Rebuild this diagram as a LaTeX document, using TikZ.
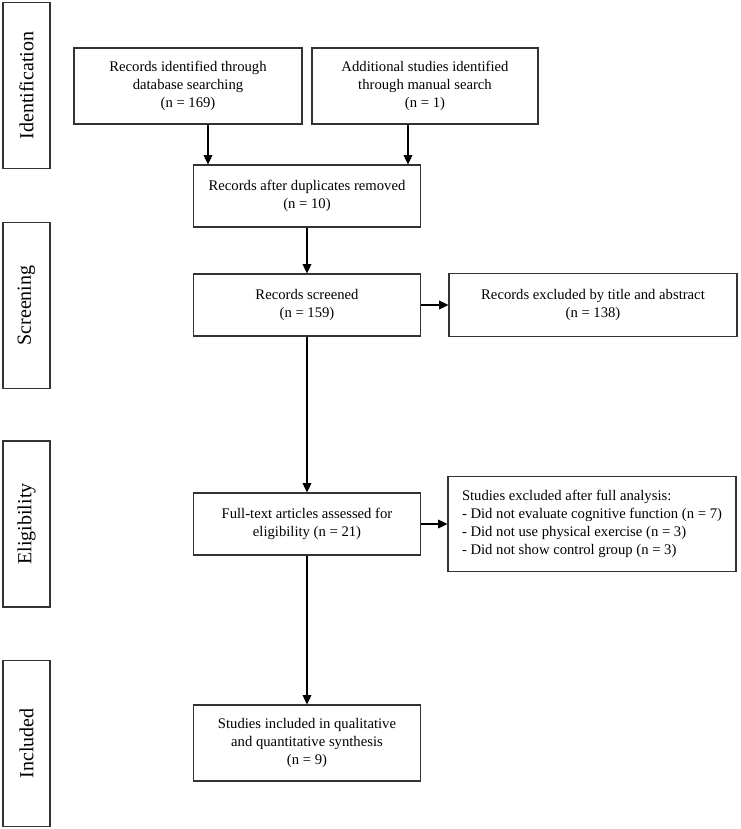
\documentclass[tikz,border=0pt]{standalone}
\usepackage{fontspec}
\setmainfont{Liberation Serif}
\usepackage{tikz}
\usetikzlibrary{arrows.meta,positioning}

\tikzset{
  stagebox/.style={shape=rectangle,draw=black!80,line width=.8pt,rotate=90,
    minimum width=124.5pt,minimum height=35.25pt,inner sep=0pt,
    font=\fontsize{15}{18}\selectfont},
  flowbox/.style={shape=rectangle,draw=black!80,line width=.8pt,align=center,
    minimum width=170.25pt,minimum height=46.5pt,inner sep=0pt,
    font=\fontsize{11}{13.5}\selectfont},
  flowarrow/.style={-{Triangle[length=7pt,width=6.5pt]},line width=1pt}
}

\begin{document}
\begin{tikzpicture}[x=0.75pt,y=-0.75pt]
		\useasboundingbox (0,0) rectangle (740,829);
		% stages on the left
		\node (identification) at (26.5,85.5) [stagebox] {Identification};
		\node (screening) at (26.5,305.5) [stagebox] {Screening};
		\node (eligibility) at (26.5,524) [stagebox] {Eligibility};
		\node (included) at (26.5,743.5) [stagebox] {Included};
		% flow boxes
		\node (database) at (188,86) [flowbox,minimum width=171pt,minimum height=57pt] {Records identified through\\database searching\\(n = 169)};
		\node (manual) at (425,86) [flowbox,minimum width=169.5pt,minimum height=57pt] {Additional studies identified\\through manual search\\(n = 1)};
		\node (duplicates) at (307,196) [flowbox] {Records after duplicates removed\\(n = 10)};
		\node (screened) at (307,305) [flowbox] {Records screened\\(n = 159)};
		\node (titleexcl) at (593,305) [flowbox,minimum width=216pt,minimum height=47.25pt] {Records excluded by title and abstract\\(n = 138)};
		\node (fulltext) at (307,524) [flowbox] {Full-text articles assessed for\\eligibility (n = 21)};
		\node (fullexcl) at (592,524) [flowbox,align=left,minimum width=216pt,minimum height=71.25pt] {Studies excluded after full analysis:\\- Did not evaluate cognitive function (n = 7)\\- Did not use physical exercise (n = 3)\\- Did not show control group (n = 3)};
		\node (synthesis) at (307,743) [flowbox,minimum height=57pt] {Studies included in qualitative\\and quantitative synthesis\\(n = 9)};
		% connectors
		\draw [flowarrow] ([xshift=15pt]database.south) -- ([xshift=15pt]database.south |- duplicates.north);
		\draw [flowarrow] ([xshift=-12.75pt]manual.south) -- ([xshift=-12.75pt]manual.south |- duplicates.north);
		\draw [flowarrow] (duplicates.south) -- (screened.north);
		\draw [flowarrow] (screened.east) -- (titleexcl.west);
		\draw [flowarrow] (screened.south) -- (fulltext.north);
		\draw [flowarrow] (fulltext.east) -- (fullexcl.west);
		\draw [flowarrow] (fulltext.south) -- (synthesis.north);
	\end{tikzpicture}
\end{document}
